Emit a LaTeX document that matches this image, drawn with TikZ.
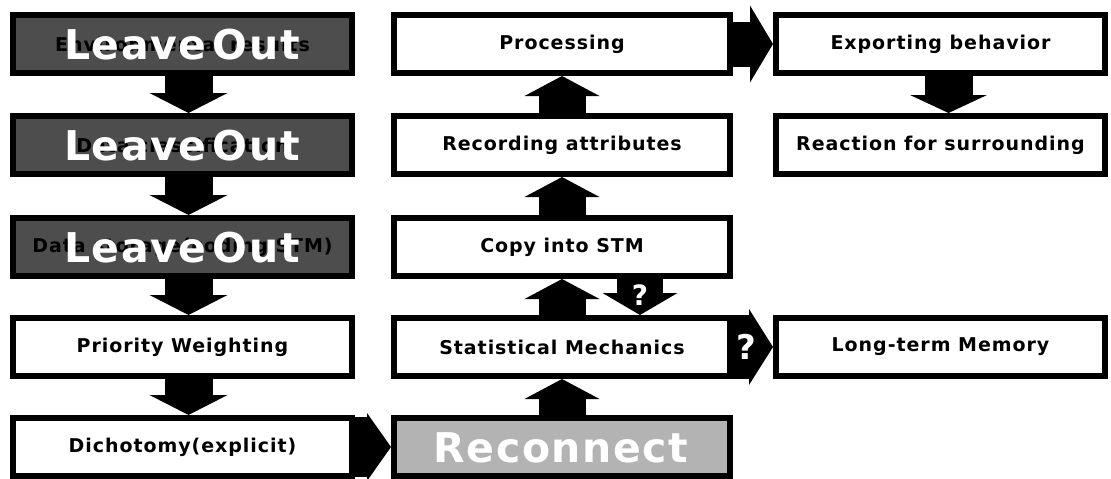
\documentclass[tikz,border=0pt]{standalone}
\usepackage{fontspec}
\setmainfont{DejaVu Sans}
\newfontfamily\boxfont{DejaVu Sans}[LetterSpace=5]
\newfontfamily\bigfont{DejaVu Sans}[LetterSpace=4]
\usepackage{xcolor}
\definecolor{leavegray}{RGB}{77,77,77}
\definecolor{linkgray}{RGB}{179,179,179}
\usepackage{tikz}
\usetikzlibrary{arrows.meta}

\begin{document}
\begin{tikzpicture}[x=1pt, y=-1pt,
    stage/.style={draw=black, line width=6pt, fill=white, inner sep=0pt, minimum height=58pt,
      font=\fontsize{19}{22}\selectfont\boxfont\bfseries},
    leftstage/.style={stage, minimum width=339pt},
    midstage/.style={stage, minimum width=336pt},
    rightstage/.style={stage, minimum width=329pt},
    bigword/.style={text=white, inner sep=0pt, font=\fontsize{41}{44}\selectfont\bigfont\bfseries},
    qmark/.style={text=white, inner sep=0pt, font=\fontsize{#1}{#1}\selectfont\bfseries},
    blockarrow/.style n args={3}{draw=black, line width=#1,
      -{Triangle[line width=0pt, width=#2, length=#3]}}]
    \useasboundingbox (0,0) rectangle (1111,479);

    % Left column (first three stages left out)
    \node[leftstage, fill=leavegray] (env) at (182.5,44) {Environmental results};
    \node[leftstage, fill=leavegray] (classify) at (182.5,145) {Data classification};
    \node[leftstage, fill=leavegray] (storage) at (182.5,247) {Data storage(coding STM)};
    \node[leftstage] (priority) at (182.5,347) {Priority Weighting};
    \node[leftstage] (dichotomy) at (182.5,447) {Dichotomy(explicit)};
    \node[bigword] (leave1) at (182,45) {Leave\hspace{0.15em}Out};
    \node[bigword] (leave2) at (182,146) {Leave\hspace{0.15em}Out};
    \node[bigword] (leave3) at (182,248) {Leave\hspace{0.15em}Out};

    % Middle column
    \node[midstage, fill=linkgray] (reconnect) at (562,447) {};
    \node[bigword] (reword) at (561,448) {Reconnect};
    \node[midstage] (statmech) at (562,347) {Statistical Mechanics};
    \node[midstage] (copystm) at (562,247) {Copy into STM};
    \node[midstage] (recording) at (562,145) {Recording attributes};
    \node[midstage] (processing) at (562,44) {Processing};

    % Right column
    \node[rightstage] (exporting) at (940.5,44) {Exporting behavior};
    \node[rightstage] (reaction) at (940.5,145) {Reaction for surrounding};
    \node[rightstage] (longterm) at (940.5,347) {Long-term Memory};

    % Arrows down the left column
    \draw[blockarrow={48pt}{78pt}{20pt}] ([xshift=6pt]env.south) -- ([xshift=6pt]classify.north);
    \draw[blockarrow={48pt}{78pt}{20pt}] ([xshift=6pt]classify.south) -- ([xshift=6pt]storage.north);
    \draw[blockarrow={48pt}{78pt}{20pt}] ([xshift=6pt]storage.south) -- ([xshift=6pt]priority.north);
    \draw[blockarrow={48pt}{78pt}{20pt}] ([xshift=6pt]priority.south) -- ([xshift=6pt]dichotomy.north);
    \draw[blockarrow={60pt}{68pt}{24pt}] (dichotomy.east) -- (reconnect.west);

    % Arrows up the middle column
    \draw[blockarrow={47pt}{75pt}{20pt}] (reconnect.north) -- (statmech.south);
    \draw[blockarrow={47pt}{75pt}{20pt}] (statmech.north) -- (copystm.south);
    \draw[blockarrow={47pt}{75pt}{20pt}] (copystm.north) -- (recording.south);
    \draw[blockarrow={47pt}{75pt}{20pt}] (recording.north) -- (processing.south);
    \draw[blockarrow={46pt}{75pt}{22pt}] ([xshift=78pt]copystm.south) -- node[qmark=28, pos=0.45] (q1) {?} ([xshift=78pt]statmech.north);
    \draw[blockarrow={64pt}{76pt}{24pt}] (statmech.east) -- node[qmark=34, pos=0.33] (q2) {?} (longterm.west);

    % Output side
    \draw[blockarrow={45pt}{77pt}{23pt}] (processing.east) -- (exporting.west);
    \draw[blockarrow={48pt}{77pt}{18pt}] ([xshift=8pt]exporting.south) -- ([xshift=8pt]reaction.north);
\end{tikzpicture}
\end{document}
